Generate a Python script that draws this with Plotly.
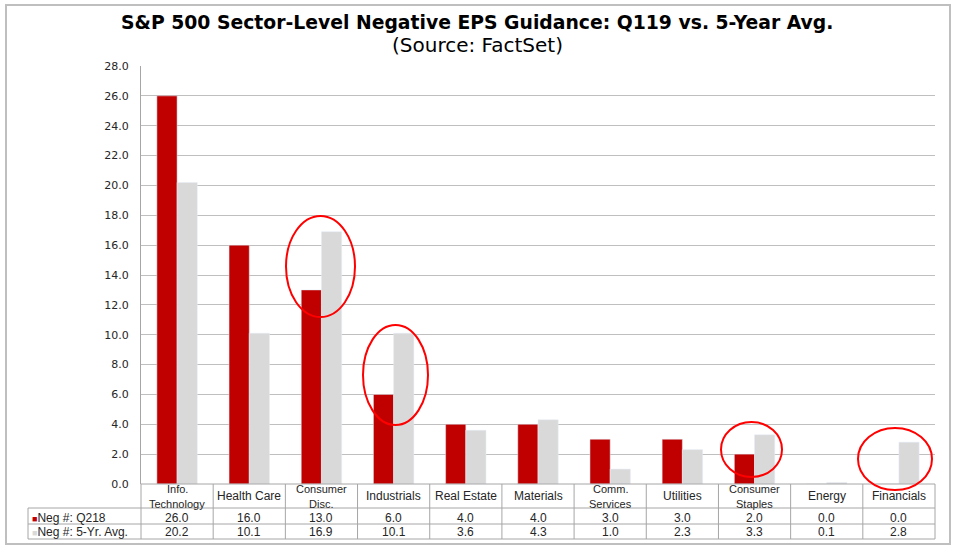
import plotly.graph_objects as go

# data
sectors = ["Info. Technology", "Health Care", "Consumer Disc.", "Industrials", "Real Estate",
           "Materials", "Comm. Services", "Utilities", "Consumer Staples", "Energy", "Financials"]
sector_labels = ["Info.<br>Technology", "Health Care", "Consumer<br>Disc.", "Industrials", "Real Estate",
                 "Materials", "Comm.<br>Services", "Utilities", "Consumer<br>Staples", "Energy", "Financials"]
neg_q218 = [26.0, 16.0, 13.0, 6.0, 4.0, 4.0, 3.0, 3.0, 2.0, 0.0, 0.0]
neg_5yr = [20.2, 10.1, 16.9, 10.1, 3.6, 4.3, 1.0, 2.3, 3.3, 0.1, 2.8]
y_ticks = [0, 2, 4, 6, 8, 10, 12, 14, 16, 18, 20, 22, 24, 26, 28]

RED = "#C00000"
GRAY = "#D9D9D9"
W, H = 955, 550
L, R, T, B = 141, 935, 66, 484   # plot area in pixels


def px(x):
    return (x - L) / (R - L)


def py(y):
    return (B - y) / (B - T)


fig = go.Figure()
fig.add_trace(go.Bar(x=sectors, y=neg_q218, name="Neg #: Q218", marker_color=RED))
fig.add_trace(go.Bar(x=sectors, y=neg_5yr, name="Neg #: 5-Yr. Avg.", marker_color=GRAY))

shapes = []
annots = []
line_col = "#A6A6A6"

# outer frame
shapes.append(dict(type="rect", xref="paper", yref="paper",
                   x0=px(6), x1=px(950), y0=py(544), y1=py(5),
                   line=dict(color="#BFBFBF", width=2), layer="below"))

# data table grid
n = len(sectors)
cw = (R - L) / n
for k in range(n + 1):
    xx = L + k * cw
    shapes.append(dict(type="line", xref="paper", yref="paper",
                       x0=px(xx), x1=px(xx), y0=py(484), y1=py(539),
                       line=dict(color=line_col, width=1)))
shapes.append(dict(type="line", xref="paper", yref="paper",
                   x0=px(28), x1=px(28), y0=py(508), y1=py(539),
                   line=dict(color=line_col, width=1)))
shapes.append(dict(type="line", xref="paper", yref="paper",
                   x0=0, x1=1, y0=0, y1=0, line=dict(color=line_col, width=1)))
for yy in [508, 524, 539]:
    shapes.append(dict(type="line", xref="paper", yref="paper",
                       x0=px(28), x1=1, y0=py(yy), y1=py(yy),
                       line=dict(color=line_col, width=1)))

txt = dict(family="Arial", size=12, color="#262626")
head = dict(family="Arial", size=11, color="#262626")
for i, s in enumerate(sectors):
    # header cell: lines placed one by one, Excel packs them tighter than plotly's <br>
    parts = sector_labels[i].split("<br>")
    ys = [496] if len(parts) == 1 else [489.5, 503.5]
    for part, yy in zip(parts, ys):
        annots.append(dict(x=s, xref="x", y=py(yy), yref="paper", text=part,
                           showarrow=False, font=head if len(parts) > 1 else txt,
                           yanchor="middle"))
    annots.append(dict(x=s, xref="x", y=py(517.5), yref="paper", text=f"{neg_q218[i]:.1f}",
                       showarrow=False, font=txt, yanchor="middle"))
    annots.append(dict(x=s, xref="x", y=py(532), yref="paper", text=f"{neg_5yr[i]:.1f}",
                       showarrow=False, font=txt, yanchor="middle"))

annots.append(dict(x=px(30), xref="paper", y=py(517.5), yref="paper", xanchor="left",
                   text=f"<span style='color:{RED};font-size:9px'>■</span>Neg #: Q218",
                   showarrow=False, font=txt, yanchor="middle"))
annots.append(dict(x=px(30), xref="paper", y=py(532), yref="paper", xanchor="left",
                   text=f"<span style='color:{GRAY};font-size:9px'>■</span>Neg #: 5-Yr. Avg.",
                   showarrow=False, font=txt, yanchor="middle"))

# titles
annots.append(dict(x=px(477), xref="paper", y=py(23), yref="paper", yanchor="middle",
                   text="<b>S&P 500 Sector-Level Negative EPS Guidance: Q119 vs. 5-Year Avg.</b>",
                   showarrow=False, font=dict(family="DejaVu Sans", size=18.8, color="black")))
annots.append(dict(x=px(477), xref="paper", y=py(45), yref="paper", yanchor="middle",
                   text="(Source: FactSet)",
                   showarrow=False, font=dict(family="DejaVu Sans", size=20, color="black")))

# red highlight circles
for x0, x1, y0, y1 in [(286, 355, 216, 317), (363, 428, 325, 425),
                       (721, 782, 422, 477), (858, 932, 428, 490)]:
    shapes.append(dict(type="circle", xref="paper", yref="paper",
                       x0=px(x0), x1=px(x1), y0=py(y1), y1=py(y0),
                       line=dict(color="red", width=2)))

fig.update_layout(
    width=W, height=H,
    margin=dict(l=L, r=W - R, t=T, b=H - B),
    paper_bgcolor="white", plot_bgcolor="white",
    barmode="group", bargap=0.44, bargroupgap=0,
    showlegend=False,
    shapes=shapes, annotations=annots,
    xaxis=dict(showticklabels=False, showgrid=False, showline=False, ticks=""),
    yaxis=dict(range=[0, 28], tickvals=y_ticks, tickformat=".1f",
               showgrid=True, gridcolor="#BFBFBF", gridwidth=1,
               showline=True, linecolor="#A6A6A6", linewidth=1,
               zeroline=False, ticks="", ticklabelstandoff=9,
               tickfont=dict(family="DejaVu Sans", size=11, color="#262626")),
)

# page body has an 8px default margin, drop it so the figure sits at 0,0
fig.write_html("out.html", config={"displayModeBar": False},
               post_script="document.body.style.margin='0';")
